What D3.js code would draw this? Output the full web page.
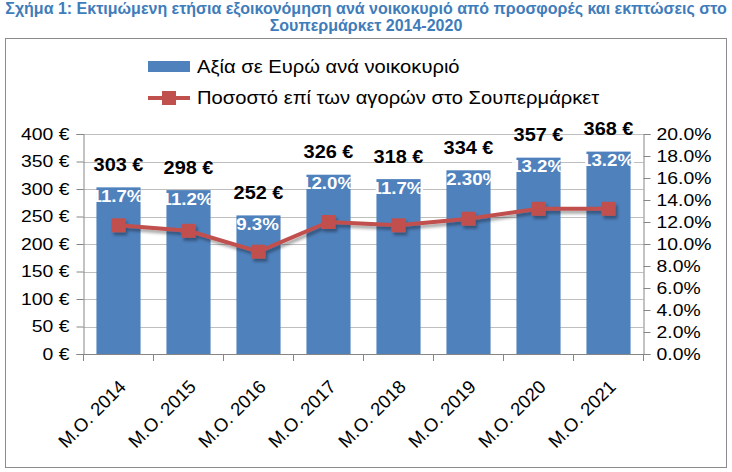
<!DOCTYPE html>
<html><head><meta charset="utf-8">
<script src="https://cdn.jsdelivr.net/npm/d3@7"></script>
<style>body{margin:0;background:#fff}svg{display:block}</style>
</head><body><svg id="c" width="732" height="472"></svg>
<script>
const categories = ["M.O. 2014","M.O. 2015","M.O. 2016","M.O. 2017","M.O. 2018","M.O. 2019","M.O. 2020","M.O. 2021"];
const euroValues = [303,298,252,326,318,334,357,368];
const pctValues = [11.7,11.2,9.3,12.0,11.7,12.3,13.2,13.2];
const pctLabels = ["11.7%","11.2%","9.3%","12.0%","11.7%","12.30%","13.2%","13.2%"];
const leftTicks = [0,50,100,150,200,250,300,350,400];
const rightTicks = [0,2,4,6,8,10,12,14,16,18,20];
const titleLines = ["Σχήμα 1: Εκτιμώμενη ετήσια εξοικονόμηση ανά νοικοκυριό από προσφορές και εκπτώσεις στο","Σουπερμάρκετ 2014-2020"];
const legendLabels = ["Αξία σε Ευρώ ανά νοικοκυριό","Ποσοστό επί των αγορών στο Σουπερμάρκετ"];

const svg = d3.select("#c");
const F = "'Liberation Sans', Arial, sans-serif";
const blue = "#4F81BD", red = "#C0504D";
const L = 83.5, R = 643.5, T = 134, B = 354;
const SX = 1.14; // horizontal stretch of the original picture's text

// title
svg.selectAll("text.title").data(titleLines).join("text")
  .attr("x", 366).attr("y", (d,i)=>13.5+i*17).attr("text-anchor","middle")
  .attr("font-family","'Liberation Sans Narrow','Arial Narrow',sans-serif").attr("font-weight","bold")
  .attr("font-size",16).attr("fill","#3F7CBA").text(d=>d);

// outer border
svg.append("rect").attr("x",5.5).attr("y",38.5).attr("width",721).attr("height",429)
  .attr("fill","none").attr("stroke","#8c8c8c").attr("stroke-width",1);

const x = d3.scaleBand().domain(categories).range([L,R]).paddingInner(0.37).paddingOuter(0.185);
const y = d3.scaleLinear().domain([0,400]).range([B,T]);
const y2 = d3.scaleLinear().domain([0,20]).range([B,T]);
const cx = i => x(categories[i]) + x.bandwidth()/2;

// gridlines
svg.append("g").selectAll("line").data(leftTicks.slice(1)).join("line")
  .attr("x1",L).attr("x2",R).attr("y1",d=>Math.round(y(d))+0.5).attr("y2",d=>Math.round(y(d))+0.5)
  .attr("stroke","#BFBFBF");

// bars
svg.append("g").selectAll("rect").data(euroValues).join("rect")
  .attr("x",(d,i)=>x(categories[i])).attr("width",x.bandwidth())
  .attr("y",d=>y(d)).attr("height",d=>B-y(d)).attr("fill",blue);

// axes
const axL = svg.append("g").attr("transform",`translate(${L},0)`)
  .call(d3.axisLeft(y).tickValues(leftTicks).tickSize(7).tickPadding(7).tickFormat(d=>d+" €"));
const axR = svg.append("g").attr("transform",`translate(${R},0)`)
  .call(d3.axisRight(y2).tickValues(rightTicks).tickSize(7).tickPadding(6).tickFormat(d=>d.toFixed(1)+"%"));
const axB = svg.append("g").attr("transform",`translate(0,${B})`)
  .call(d3.axisBottom(x).tickSize(0).tickFormat(d=>d));
[axL,axR,axB].forEach(a=>{
  a.selectAll("path.domain").attr("stroke","#868686");
  a.selectAll(".tick line").attr("stroke","#868686");
  a.selectAll("text").attr("font-family",F).attr("font-size",17).attr("fill","#000");
});
[axL,axR].forEach(a=>{
  a.selectAll(".tick text").each(function(){
    const t = d3.select(this); const x0 = +t.attr("x");
    t.attr("x", x0/SX).attr("transform",`scale(${SX},1)`);
  });
});
// category boundary ticks
svg.append("g").selectAll("line").data(d3.range(categories.length+1)).join("line")
  .attr("x1",i=>L+i*(R-L)/categories.length).attr("x2",i=>L+i*(R-L)/categories.length)
  .attr("y1",B).attr("y2",B+7).attr("stroke","#868686");
axB.selectAll(".tick text")
  .attr("text-anchor","end").attr("dy",0).attr("y",0).attr("font-size",18.5)
  .attr("transform","translate(8.5,34) rotate(-45)");

// line with shadow
const line = d3.line().x((d,i)=>cx(i)).y(d=>y2(d));
const defs = svg.append("defs");
const f = defs.append("filter").attr("id","sh").attr("x","-20%").attr("y","-20%").attr("width","140%").attr("height","160%");
f.append("feDropShadow").attr("dx",2).attr("dy",3).attr("stdDeviation",1.5).attr("flood-color","#000").attr("flood-opacity",0.35);
const lg = svg.append("g").attr("filter","url(#sh)");
lg.append("path").datum(pctValues).attr("d",line).attr("fill","none").attr("stroke",red).attr("stroke-width",4);
lg.selectAll("rect").data(pctValues).join("rect")
  .attr("x",(d,i)=>cx(i)-7).attr("y",d=>y2(d)-7)
  .attr("width",14).attr("height",14).attr("fill",red);

// value labels
svg.append("g").selectAll("text").data(euroValues).join("text")
  .attr("transform",(d,i)=>`translate(${cx(i)},${y(d)-16.5}) scale(${SX},1)`)
  .attr("text-anchor","middle").attr("font-family",F).attr("font-weight","bold").attr("font-size",17.5)
  .attr("fill","#000").text(d=>d+" €");

// percent labels (white, inside bar tops)
svg.append("g").selectAll("text").data(pctLabels).join("text")
  .attr("transform",(d,i)=>`translate(${cx(i)-1},${y(euroValues[i])+14.5}) scale(1.1,1)`)
  .attr("text-anchor","middle").attr("font-family",F).attr("font-weight","bold").attr("font-size",17)
  .attr("fill","#fff").text(d=>d);

// legend
const leg = svg.append("g");
leg.append("rect").attr("x",148).attr("y",61).attr("width",42).attr("height",11).attr("fill",blue);
leg.append("line").attr("x1",148).attr("x2",190).attr("y1",98).attr("y2",98).attr("stroke",red).attr("stroke-width",4);
leg.append("rect").attr("x",162).attr("y",91).attr("width",14).attr("height",14).attr("fill",red);
leg.selectAll("text").data(legendLabels).join("text")
  .attr("transform",(d,i)=>`translate(197,${73+i*31}) scale(1.12,1)`)
  .attr("font-family",F).attr("font-size",18).attr("fill","#000").text(d=>d);
</script></body></html>
